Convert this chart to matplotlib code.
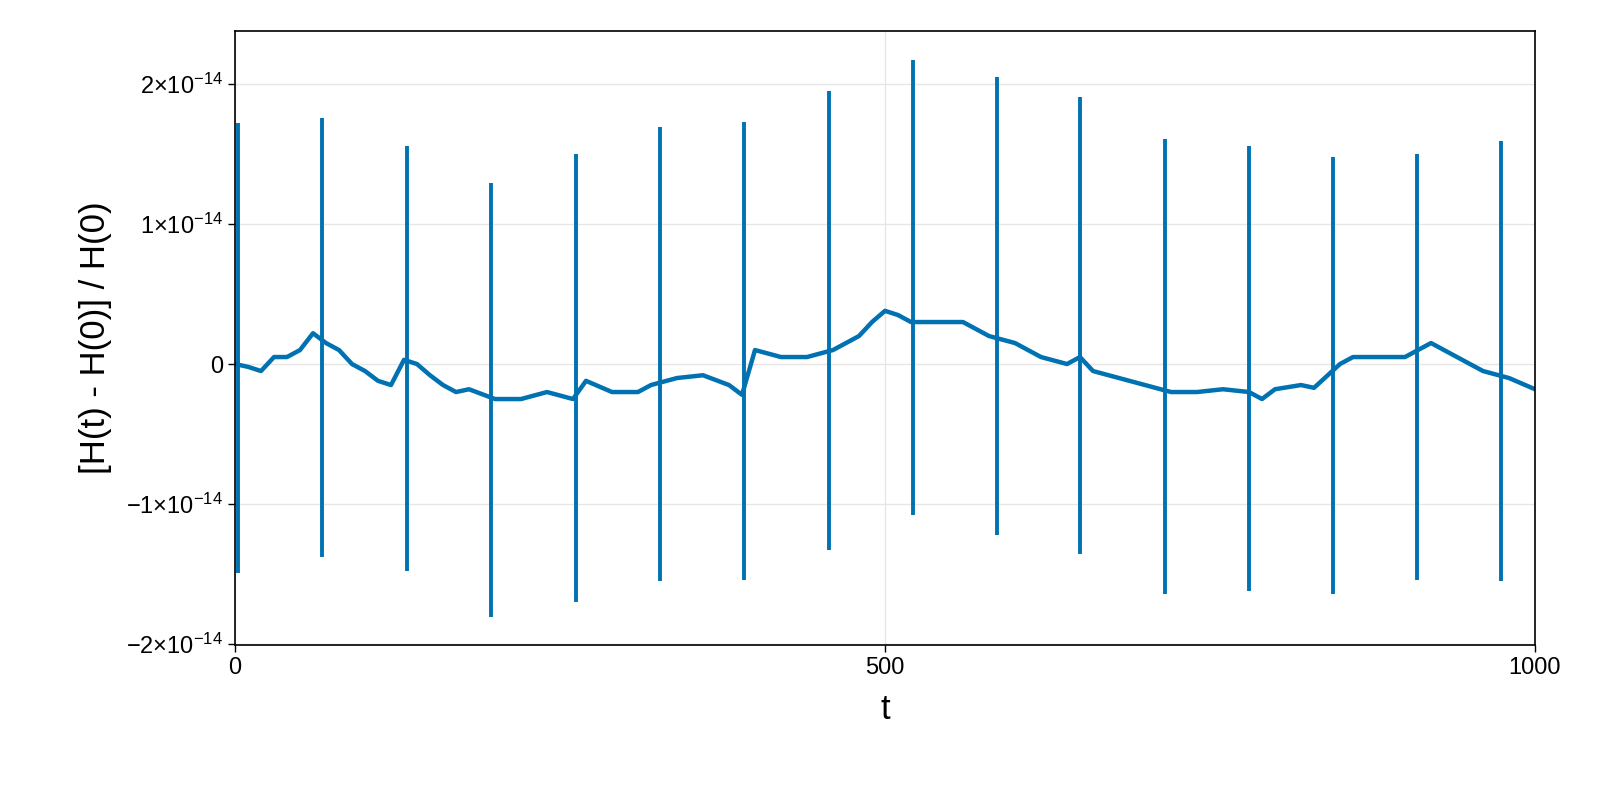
import matplotlib
matplotlib.use("Agg")
import matplotlib.pyplot as plt
import numpy as np

plt.rcParams['font.family'] = ['Liberation Sans', 'DejaVu Sans']
plt.rcParams['mathtext.fontset'] = 'custom'
plt.rcParams['mathtext.rm'] = 'Liberation Sans'
plt.rcParams['mathtext.it'] = 'Liberation Sans'

# baseline drift (units of 1e-14)
base_t = [0, 10, 20, 30, 40, 50, 60, 70, 80, 90, 100, 110, 120, 130, 140, 150, 160, 170, 180, 200,
          220, 240, 260, 270, 290, 310, 320, 340, 360, 380, 390, 400, 420, 440, 460, 470, 480, 490,
          500, 510, 520, 540, 560, 570, 580, 600, 620, 640, 650, 660, 680, 700, 720, 740, 760, 780,
          790, 800, 820, 830, 850, 860, 880, 900, 910, 920, 940, 960, 980, 1000]
base_v = [0.0, -0.02, -0.05, 0.05, 0.05, 0.1, 0.22, 0.15, 0.1, 0.0, -0.05, -0.12, -0.15, 0.03, 0.0,
          -0.08, -0.15, -0.2, -0.18, -0.25, -0.25, -0.2, -0.25, -0.12, -0.2, -0.2, -0.15, -0.1, -0.08,
          -0.15, -0.22, 0.1, 0.05, 0.05, 0.1, 0.15, 0.2, 0.3, 0.38, 0.35, 0.3, 0.3, 0.3, 0.25, 0.2,
          0.15, 0.05, 0.0, 0.05, -0.05, -0.1, -0.15, -0.2, -0.2, -0.18, -0.2, -0.25, -0.18, -0.15,
          -0.17, 0.0, 0.05, 0.05, 0.05, 0.1, 0.15, 0.05, -0.05, -0.1, -0.18]
# periodic spikes
spike_t = [2.3, 67, 132.3, 197, 262, 327, 391.5, 456.9, 521.5, 586, 650, 715, 780, 844.6, 909, 974]
spike_top = [1.72, 1.76, 1.56, 1.29, 1.5, 1.69, 1.73, 1.95, 2.17, 2.05, 1.91, 1.61, 1.56, 1.48, 1.5, 1.59]
spike_bot = [-1.49, -1.38, -1.48, -1.81, -1.70, -1.55, -1.54, -1.33, -1.08, -1.22, -1.36, -1.64,
             -1.62, -1.64, -1.54, -1.55]

scale = 1e-14
color = '#0072b2'

fig = plt.figure(figsize=(16, 8), dpi=100)
ax = fig.add_axes([235/1600, 1-645/800, 1300/1600, 614/800])
ax.plot(base_t, np.array(base_v)*scale, color=color, lw=3.2)
ax.vlines(spike_t, np.array(spike_bot)*scale, np.array(spike_top)*scale, color=color, lw=2.8)

ax.set_xlim(0, 1000)
ax.set_ylim(-2.007e-14, 2.379e-14)
ax.set_xticks([0, 500, 1000])
ax.set_xticklabels(['0', '500', '1000'])
yt = [-2e-14, -1e-14, 0, 1e-14, 2e-14]
ax.set_yticks(yt)
ax.set_yticklabels([r'$-2{\times}10^{-14}$', r'$-1{\times}10^{-14}$', '0',
                    r'$1{\times}10^{-14}$', r'$2{\times}10^{-14}$'])
ax.grid(True, color='#e6e6e6', lw=1)
ax.set_axisbelow(True)
ax.tick_params(labelsize=17, length=5, width=1)
ax.set_xlabel('t', fontsize=25, labelpad=10)
ax.set_ylabel('[H(t) - H(0)] / H(0)', fontsize=25, labelpad=10)
for s in ax.spines.values():
    s.set_linewidth(1.2)
fig.savefig('out.png', dpi=100)
